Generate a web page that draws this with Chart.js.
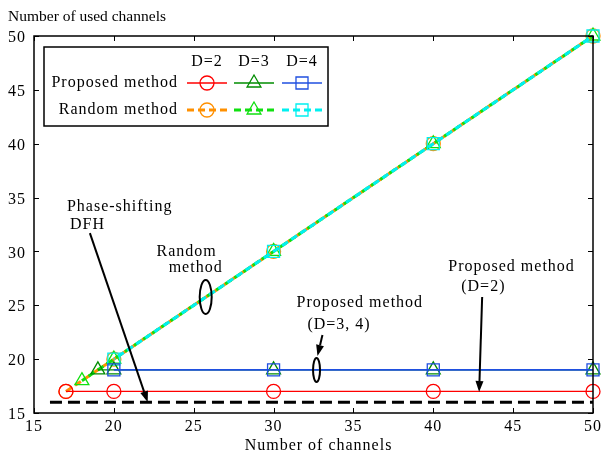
<!DOCTYPE html>
<html><head><meta charset="utf-8">
<script src="https://cdn.jsdelivr.net/npm/chart.js@4/dist/chart.umd.min.js"></script>
<style>html,body{margin:0;padding:0;background:#fff}</style>
</head><body>
<canvas id="c" width="605" height="454"></canvas>
<script>
// ---- data ----
const xTicks = [15, 20, 25, 30, 35, 40, 45, 50];
const yTicks = [15, 20, 25, 30, 35, 40, 45, 50];
const propD2X = [17, 20, 30, 40, 50];
const propD2Y = [17, 17, 17, 17, 17];
const propD3X = [19, 20, 30, 40, 50];
const propD3Y = [19, 19, 19, 19, 19];
const propD4X = [20, 30, 40, 50];
const propD4Y = [19, 19, 19, 19];
const randD2X = [17, 20, 30, 40, 50];
const randD2Y = [17, 20, 30, 40, 50];
const randD3X = [18, 20, 30, 40, 50];
const randD3Y = [18, 20, 30, 40, 50];
const randD4X = [20, 30, 40, 50];
const randD4Y = [20, 30, 40, 50];
const dfhX = [16, 50];
const dfhY = [16, 16];
const legendHeaders = ['D=2', 'D=3', 'D=4'];
const legendRows = ['Proposed method', 'Random method'];
const xTitle = 'Number of channels';
const yTitle = 'Number of used channels';

const FONT = '"Liberation Serif", "Times New Roman", serif';
const pts = (xs, ys) => xs.map((x, i) => ({x, y: ys[i]}));

function ds(label, xs, ys, color, style, radius, width, dash, order) {
  return {label, data: pts(xs, ys), showLine: true, borderColor: color,
    pointBorderColor: color, backgroundColor: 'rgba(0,0,0,0)', pointBackgroundColor: 'rgba(0,0,0,0)',
    pointStyle: style, pointRadius: radius, pointBorderWidth: 1.3, borderWidth: width,
    borderDash: dash, order, tension: 0, clip: false};
}
const datasets = [
  ds('Proposed D=2', propD2X, propD2Y, '#ff0000', 'circle', 7, 1.3, [], 3),
  ds('Proposed D=3', propD3X, propD3Y, '#008c00', 'triangle', 8, 1.3, [], 2),
  ds('Proposed D=4', propD4X, propD4Y, '#1f4fe0', 'rect', 8.5, 1.6, [], 1),
  ds('Random D=2', randD2X, randD2Y, '#ff9000', 'circle', 7, 3, [7, 4], 6),
  ds('Random D=3', randD3X, randD3Y, '#10e010', 'triangle', 8, 3, [7, 4], 5),
  ds('Random D=4', randD4X, randD4Y, '#00f0f0', 'rect', 8.5, 3, [7, 4], 4),
  {label: 'Phase-shifting DFH', data: pts(dfhX, dfhY), showLine: true, borderColor: '#000',
   borderWidth: 3, borderDash: [12, 6], pointRadius: 0, order: 7, clip: false}
];
datasets[4].borderDashOffset = 3;
datasets[5].borderDashOffset = 6;

// annotations in data coordinates
const texts = [
  {t: 'Phase-shifting', x: 17.06, y: 34.13, align: 'left'},
  {t: 'DFH', x: 17.25, y: 32.46, align: 'left'},
  {t: 'Random', x: 24.56, y: 29.95, align: 'center'},
  {t: 'method', x: 25.12, y: 28.46, align: 'center'},
  {t: 'Proposed method', x: 31.44, y: 25.2, align: 'left'},
  {t: '(D=3, 4)', x: 32.12, y: 23.17, align: 'left'},
  {t: 'Proposed method', x: 40.94, y: 28.56, align: 'left'},
  {t: '(D=2)', x: 41.75, y: 26.7, align: 'left'}
];
const arrows = [
  {x1: 18.5, y1: 31.7, x2: 22.12, y2: 16.0},
  {x1: 33.06, y1: 22.24, x2: 32.75, y2: 20.3},
  {x1: 43.06, y1: 25.77, x2: 42.87, y2: 16.95}
];
const ellipses = [
  {x: 25.75, y: 25.77, rx: 6, ry: 17},
  {x: 32.69, y: 18.99, rx: 3.5, ry: 12}
];

function drawArrow(ctx, x1, y1, x2, y2) {
  const a = Math.atan2(y2 - y1, x2 - x1), L = 11, W = 4;
  const bx = x2 - L * Math.cos(a), by = y2 - L * Math.sin(a);
  ctx.beginPath(); ctx.moveTo(x1, y1); ctx.lineTo(bx, by); ctx.stroke();
  ctx.beginPath(); ctx.moveTo(x2, y2);
  ctx.lineTo(bx + W * Math.sin(a), by - W * Math.cos(a));
  ctx.lineTo(bx - W * Math.sin(a), by + W * Math.cos(a));
  ctx.closePath(); ctx.fill();
}

const overlay = {
  id: 'overlay',
  beforeDraw(chart) { chart.ctx.letterSpacing = '1px'; },
  afterDraw(chart) {
    const ctx = chart.ctx, a = chart.chartArea, xs = chart.scales.x, ys = chart.scales.y;
    ctx.save();
    // frame
    ctx.strokeStyle = '#000'; ctx.lineWidth = 1.5; ctx.setLineDash([]);
    ctx.strokeRect(a.left, a.top, a.right - a.left, a.bottom - a.top);
    ctx.lineWidth = 1;
    const tl = 5;
    xTicks.forEach(v => { const p = Math.round(xs.getPixelForValue(v)) + 0.5;
      ctx.beginPath(); ctx.moveTo(p, a.bottom); ctx.lineTo(p, a.bottom - tl);
      ctx.moveTo(p, a.top); ctx.lineTo(p, a.top + tl); ctx.stroke(); });
    yTicks.forEach(v => { const p = Math.round(ys.getPixelForValue(v)) + 0.5;
      ctx.beginPath(); ctx.moveTo(a.left, p); ctx.lineTo(a.left + tl, p);
      ctx.moveTo(a.right, p); ctx.lineTo(a.right - tl, p); ctx.stroke(); });
    // titles
    ctx.fillStyle = '#000'; ctx.textBaseline = 'middle';
    ctx.letterSpacing = '0px'; ctx.font = '15.5px ' + FONT;
    ctx.textAlign = 'left'; ctx.fillText(yTitle, 8, 17);
    ctx.letterSpacing = '1px'; ctx.font = '16px ' + FONT;
    ctx.textAlign = 'center'; ctx.fillText(xTitle, (a.left + a.right) / 2 + 5, 446);
    // annotations
    texts.forEach(o => { ctx.textAlign = o.align;
      ctx.fillText(o.t, xs.getPixelForValue(o.x), ys.getPixelForValue(o.y)); });
    ctx.lineWidth = 2; ctx.strokeStyle = '#000'; ctx.fillStyle = '#000';
    arrows.forEach(o => drawArrow(ctx, xs.getPixelForValue(o.x1), ys.getPixelForValue(o.y1),
      xs.getPixelForValue(o.x2), ys.getPixelForValue(o.y2)));
    ellipses.forEach(o => { ctx.beginPath();
      ctx.ellipse(xs.getPixelForValue(o.x), ys.getPixelForValue(o.y), o.rx, o.ry, 0, 0, Math.PI * 2); ctx.stroke(); });
    // legend
    const lx = a.left + 10, ly = a.top + 11, lw = 284, lh = 79;
    ctx.fillStyle = '#fff'; ctx.fillRect(lx, ly, lw, lh);
    ctx.lineWidth = 1.5; ctx.strokeStyle = '#000'; ctx.strokeRect(lx, ly, lw, lh);
    ctx.fillStyle = '#000'; ctx.font = '16px ' + FONT; ctx.textBaseline = 'middle';
    const cols = [lx + 163, lx + 210, lx + 258];
    legendHeaders.forEach((h, i) => { ctx.textAlign = 'center'; ctx.fillText(h, cols[i], ly + 15); });
    const rowsY = [ly + 36, ly + 63];
    legendRows.forEach((r, i) => { ctx.textAlign = 'right'; ctx.fillText(r, lx + 134, rowsY[i]); });
    for (let r = 0; r < 2; r++) for (let c = 0; c < 3; c++) {
      const d = chart.data.datasets[r * 3 + c];
      const cx = cols[c], cy = rowsY[r];
      ctx.save();
      ctx.strokeStyle = d.borderColor; ctx.lineWidth = d.borderWidth; ctx.setLineDash(d.borderDash || []);
      ctx.beginPath(); ctx.moveTo(cx - 20, cy); ctx.lineTo(cx + 20, cy); ctx.stroke();
      ctx.setLineDash([]); ctx.lineWidth = d.pointBorderWidth;
      ctx.fillStyle = 'rgba(0,0,0,0)';
      Chart.helpers.drawPoint(ctx, {pointStyle: d.pointStyle, radius: d.pointRadius, borderWidth: d.pointBorderWidth, rotation: 0}, cx, cy);
      ctx.restore();
    }
    ctx.restore();
  }
};

new Chart(document.getElementById('c'), {
  type: 'scatter',
  data: {datasets},
  options: {
    responsive: false, animation: false, devicePixelRatio: 1,
    layout: {padding: {top: 36, right: 11, left: 0, bottom: 0}},
    plugins: {legend: {display: false}, tooltip: {enabled: false}},
    scales: {
      x: {type: 'linear', min: 15, max: 50,
        afterBuildTicks: s => { s.ticks = xTicks.map(v => ({value: v})); },
        afterFit: s => { s.height = 41; },
        grid: {display: false, drawTicks: false}, border: {display: false},
        ticks: {padding: 4, color: '#000', font: {family: FONT, size: 16}}},
      y: {type: 'linear', min: 15, max: 50,
        afterBuildTicks: s => { s.ticks = yTicks.map(v => ({value: v})); },
        afterFit: s => { s.width = 34; },
        grid: {display: false, drawTicks: false}, border: {display: false},
        ticks: {padding: 8, labelOffset: 2, color: '#000', font: {family: FONT, size: 16}}}
    }
  },
  plugins: [overlay]
});
</script>
</body></html>
